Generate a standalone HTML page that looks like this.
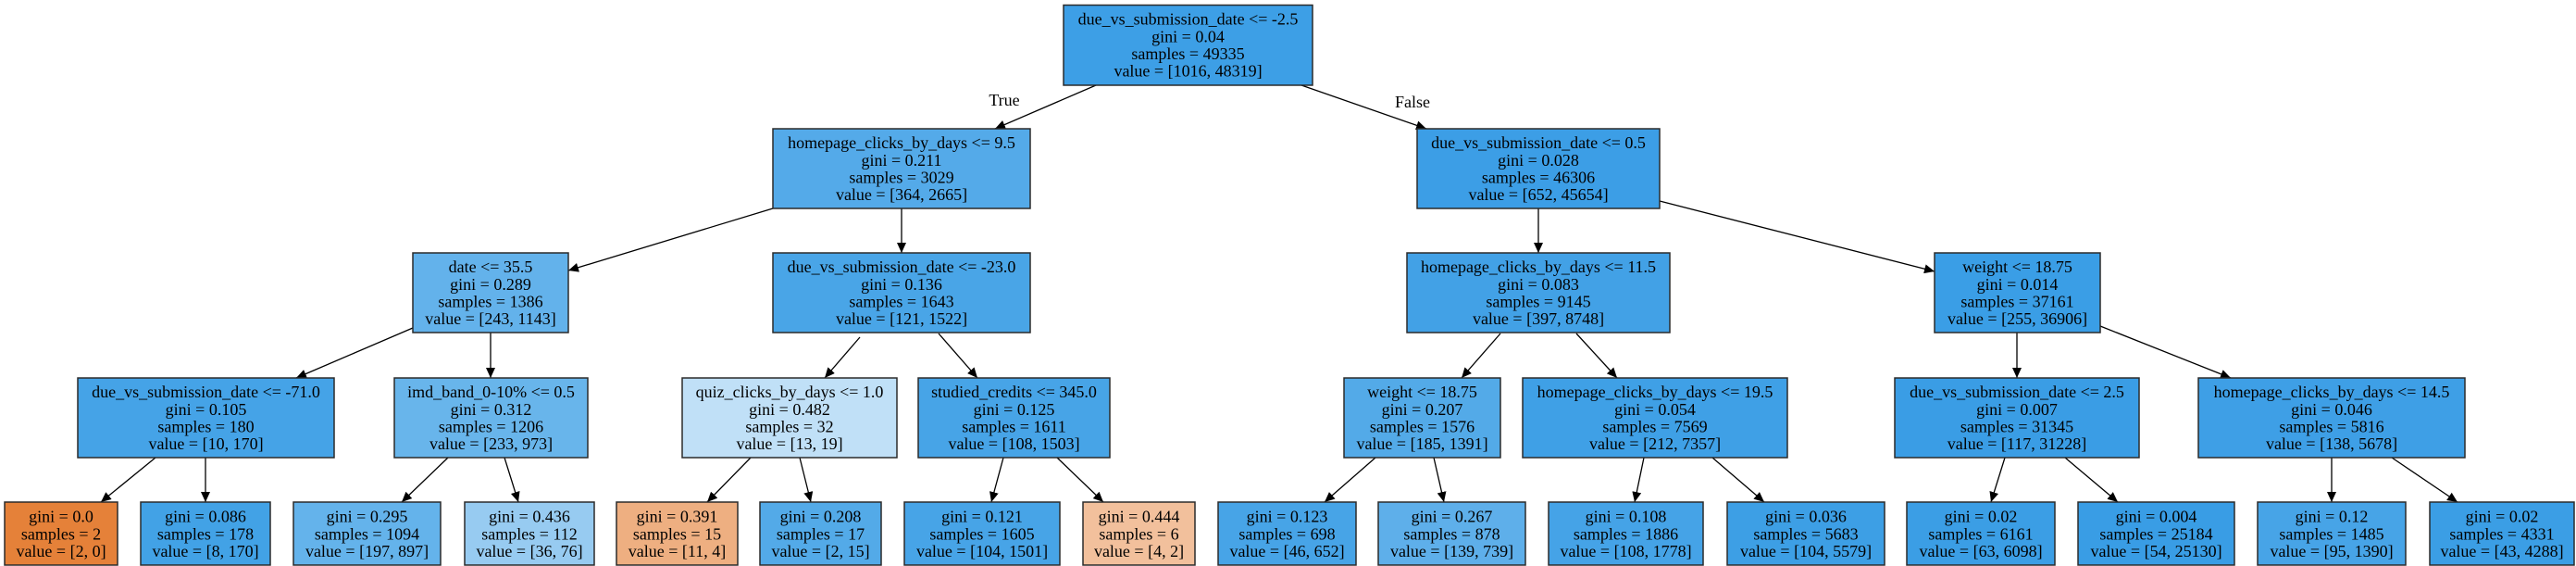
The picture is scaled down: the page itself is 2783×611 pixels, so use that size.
<!DOCTYPE html>
<html><head><meta charset="utf-8"><style>
html,body{margin:0;padding:0;background:#fff;}
svg{display:block;}
text{font-family:"Liberation Serif",serif;font-size:18px;fill:#000;text-anchor:middle;}
rect{stroke:#2b2b2b;stroke-width:1.5;}
line{stroke:#000;stroke-width:1.3;}
</style></head><body>
<svg width="2783" height="611" viewBox="0 0 2783 611" xmlns="http://www.w3.org/2000/svg">
<defs><marker id="a" markerUnits="userSpaceOnUse" markerWidth="12" markerHeight="10" refX="11" refY="5" orient="auto"><path d="M0,0 L11,5 L0,10 Z" fill="#000"/></marker></defs>

<!-- edges -->
<g marker-end="url(#a)">
<line x1="1184" y1="92" x2="1075" y2="139"/>
<line x1="1406" y1="92" x2="1541" y2="139"/>
<line x1="835" y1="225" x2="614" y2="292"/>
<line x1="974" y1="225" x2="974" y2="273"/>
<line x1="1662" y1="225" x2="1662" y2="273"/>
<line x1="1793" y1="217" x2="2090" y2="293"/>
<line x1="446" y1="354" x2="320" y2="408"/>
<line x1="530" y1="359" x2="530" y2="408"/>
<line x1="929" y1="364" x2="891" y2="408"/>
<line x1="1014" y1="360" x2="1056" y2="408"/>
<line x1="1621" y1="360" x2="1579" y2="408"/>
<line x1="1703" y1="360" x2="1747" y2="408"/>
<line x1="2179" y1="359" x2="2179" y2="408"/>
<line x1="2269" y1="352" x2="2410" y2="408"/>
<line x1="168" y1="494" x2="109" y2="542"/>
<line x1="222" y1="494" x2="222" y2="542"/>
<line x1="484" y1="494" x2="434" y2="542"/>
<line x1="545" y1="494" x2="560" y2="542"/>
<line x1="811" y1="494" x2="764" y2="542"/>
<line x1="864" y1="494" x2="876" y2="542"/>
<line x1="1084" y1="494" x2="1071" y2="542"/>
<line x1="1142" y1="494" x2="1192" y2="542"/>
<line x1="1486" y1="494" x2="1431" y2="542"/>
<line x1="1549" y1="494" x2="1560" y2="542"/>
<line x1="1776" y1="494" x2="1766" y2="542"/>
<line x1="1850" y1="494" x2="1906" y2="542"/>
<line x1="2166" y1="494" x2="2151" y2="542"/>
<line x1="2231" y1="494" x2="2288" y2="542"/>
<line x1="2519" y1="494" x2="2519" y2="542"/>
<line x1="2584" y1="494" x2="2655" y2="542"/>
</g>
<text x="1085" y="114">True</text>
<text x="1526" y="116">False</text>

<!-- depth 0 -->
<rect x="1149" y="5.5" width="269" height="86.5" fill="#3d9fe6"/>
<text x="1283.5" y="26.5">due_vs_submission_date &lt;= -2.5</text>
<text x="1283.5" y="45.5">gini = 0.04</text>
<text x="1283.5" y="64">samples = 49335</text>
<text x="1283.5" y="82.5">value = [1016, 48319]</text>

<!-- depth 1 -->
<rect x="835" y="139" width="278" height="86" fill="#54aae9"/>
<text x="974" y="160">homepage_clicks_by_days &lt;= 9.5</text>
<text x="974" y="179">gini = 0.211</text>
<text x="974" y="197.5">samples = 3029</text>
<text x="974" y="216">value = [364, 2665]</text>

<rect x="1531" y="139" width="262" height="86" fill="#3c9ee6"/>
<text x="1662" y="160">due_vs_submission_date &lt;= 0.5</text>
<text x="1662" y="179">gini = 0.028</text>
<text x="1662" y="197.5">samples = 46306</text>
<text x="1662" y="216">value = [652, 45654]</text>

<!-- depth 2 -->
<rect x="446" y="273" width="168" height="86" fill="#63b2eb"/>
<text x="530" y="294">date &lt;= 35.5</text>
<text x="530" y="313">gini = 0.289</text>
<text x="530" y="331.5">samples = 1386</text>
<text x="530" y="350">value = [243, 1143]</text>

<rect x="835" y="273" width="278" height="86" fill="#49a5e7"/>
<text x="974" y="294">due_vs_submission_date &lt;= -23.0</text>
<text x="974" y="313">gini = 0.136</text>
<text x="974" y="331.5">samples = 1643</text>
<text x="974" y="350">value = [121, 1522]</text>

<rect x="1520" y="273" width="284" height="86" fill="#42a1e6"/>
<text x="1662" y="294">homepage_clicks_by_days &lt;= 11.5</text>
<text x="1662" y="313">gini = 0.083</text>
<text x="1662" y="331.5">samples = 9145</text>
<text x="1662" y="350">value = [397, 8748]</text>

<rect x="2090" y="273" width="179" height="86" fill="#3a9ee6"/>
<text x="2179.5" y="294">weight &lt;= 18.75</text>
<text x="2179.5" y="313">gini = 0.014</text>
<text x="2179.5" y="331.5">samples = 37161</text>
<text x="2179.5" y="350">value = [255, 36906]</text>

<!-- depth 3 -->
<rect x="84" y="408" width="277" height="86" fill="#45a3e7"/>
<text x="222.5" y="429">due_vs_submission_date &lt;= -71.0</text>
<text x="222.5" y="448">gini = 0.105</text>
<text x="222.5" y="466.5">samples = 180</text>
<text x="222.5" y="485">value = [10, 170]</text>

<rect x="426" y="408" width="209" height="86" fill="#68b5eb"/>
<text x="530.5" y="429">imd_band_0-10% &lt;= 0.5</text>
<text x="530.5" y="448">gini = 0.312</text>
<text x="530.5" y="466.5">samples = 1206</text>
<text x="530.5" y="485">value = [233, 973]</text>

<rect x="737" y="408" width="232" height="86" fill="#c0e0f7"/>
<text x="853" y="429">quiz_clicks_by_days &lt;= 1.0</text>
<text x="853" y="448">gini = 0.482</text>
<text x="853" y="466.5">samples = 32</text>
<text x="853" y="485">value = [13, 19]</text>

<rect x="992" y="408" width="207" height="86" fill="#47a4e7"/>
<text x="1095.5" y="429">studied_credits &lt;= 345.0</text>
<text x="1095.5" y="448">gini = 0.125</text>
<text x="1095.5" y="466.5">samples = 1611</text>
<text x="1095.5" y="485">value = [108, 1503]</text>

<rect x="1452" y="408" width="169" height="86" fill="#53aae8"/>
<text x="1536.5" y="429">weight &lt;= 18.75</text>
<text x="1536.5" y="448">gini = 0.207</text>
<text x="1536.5" y="466.5">samples = 1576</text>
<text x="1536.5" y="485">value = [185, 1391]</text>

<rect x="1645" y="408" width="286" height="86" fill="#3fa0e6"/>
<text x="1788" y="429">homepage_clicks_by_days &lt;= 19.5</text>
<text x="1788" y="448">gini = 0.054</text>
<text x="1788" y="466.5">samples = 7569</text>
<text x="1788" y="485">value = [212, 7357]</text>

<rect x="2047" y="408" width="264" height="86" fill="#3a9de5"/>
<text x="2179" y="429">due_vs_submission_date &lt;= 2.5</text>
<text x="2179" y="448">gini = 0.007</text>
<text x="2179" y="466.5">samples = 31345</text>
<text x="2179" y="485">value = [117, 31228]</text>

<rect x="2375" y="408" width="288" height="86" fill="#3e9fe6"/>
<text x="2519" y="429">homepage_clicks_by_days &lt;= 14.5</text>
<text x="2519" y="448">gini = 0.046</text>
<text x="2519" y="466.5">samples = 5816</text>
<text x="2519" y="485">value = [138, 5678]</text>

<!-- leaves -->
<rect x="5" y="542" width="122" height="68" fill="#e58139"/>
<text x="66" y="563.5">gini = 0.0</text><text x="66" y="582.5">samples = 2</text><text x="66" y="601">value = [2, 0]</text>

<rect x="152" y="542" width="140" height="68" fill="#42a2e6"/>
<text x="222" y="563.5">gini = 0.086</text><text x="222" y="582.5">samples = 178</text><text x="222" y="601">value = [8, 170]</text>

<rect x="317" y="542" width="159" height="68" fill="#64b3eb"/>
<text x="396.5" y="563.5">gini = 0.295</text><text x="396.5" y="582.5">samples = 1094</text><text x="396.5" y="601">value = [197, 897]</text>

<rect x="502" y="542" width="140" height="68" fill="#97cbf1"/>
<text x="572" y="563.5">gini = 0.436</text><text x="572" y="582.5">samples = 112</text><text x="572" y="601">value = [36, 76]</text>

<rect x="666" y="542" width="131" height="68" fill="#eeaf81"/>
<text x="731.5" y="563.5">gini = 0.391</text><text x="731.5" y="582.5">samples = 15</text><text x="731.5" y="601">value = [11, 4]</text>

<rect x="821" y="542" width="131" height="68" fill="#53aae8"/>
<text x="886.5" y="563.5">gini = 0.208</text><text x="886.5" y="582.5">samples = 17</text><text x="886.5" y="601">value = [2, 15]</text>

<rect x="977" y="542" width="168" height="68" fill="#47a4e7"/>
<text x="1061" y="563.5">gini = 0.121</text><text x="1061" y="582.5">samples = 1605</text><text x="1061" y="601">value = [104, 1501]</text>

<rect x="1170" y="542" width="121" height="68" fill="#f2c09c"/>
<text x="1230.5" y="563.5">gini = 0.444</text><text x="1230.5" y="582.5">samples = 6</text><text x="1230.5" y="601">value = [4, 2]</text>

<rect x="1316" y="542" width="149" height="68" fill="#47a4e7"/>
<text x="1390.5" y="563.5">gini = 0.123</text><text x="1390.5" y="582.5">samples = 698</text><text x="1390.5" y="601">value = [46, 652]</text>

<rect x="1489" y="542" width="159" height="68" fill="#5eafea"/>
<text x="1568.5" y="563.5">gini = 0.267</text><text x="1568.5" y="582.5">samples = 878</text><text x="1568.5" y="601">value = [139, 739]</text>

<rect x="1673" y="542" width="167" height="68" fill="#45a3e7"/>
<text x="1756.5" y="563.5">gini = 0.108</text><text x="1756.5" y="582.5">samples = 1886</text><text x="1756.5" y="601">value = [108, 1778]</text>

<rect x="1866" y="542" width="170" height="68" fill="#3d9fe5"/>
<text x="1951" y="563.5">gini = 0.036</text><text x="1951" y="582.5">samples = 5683</text><text x="1951" y="601">value = [104, 5579]</text>

<rect x="2060" y="542" width="160" height="68" fill="#3b9ee5"/>
<text x="2140" y="563.5">gini = 0.02</text><text x="2140" y="582.5">samples = 6161</text><text x="2140" y="601">value = [63, 6098]</text>

<rect x="2245" y="542" width="169" height="68" fill="#399de5"/>
<text x="2329.5" y="563.5">gini = 0.004</text><text x="2329.5" y="582.5">samples = 25184</text><text x="2329.5" y="601">value = [54, 25130]</text>

<rect x="2439" y="542" width="160" height="68" fill="#47a4e7"/>
<text x="2519" y="563.5">gini = 0.12</text><text x="2519" y="582.5">samples = 1485</text><text x="2519" y="601">value = [95, 1390]</text>

<rect x="2625" y="542" width="156" height="68" fill="#3b9ee5"/>
<text x="2703" y="563.5">gini = 0.02</text><text x="2703" y="582.5">samples = 4331</text><text x="2703" y="601">value = [43, 4288]</text>
</svg>
</body></html>
